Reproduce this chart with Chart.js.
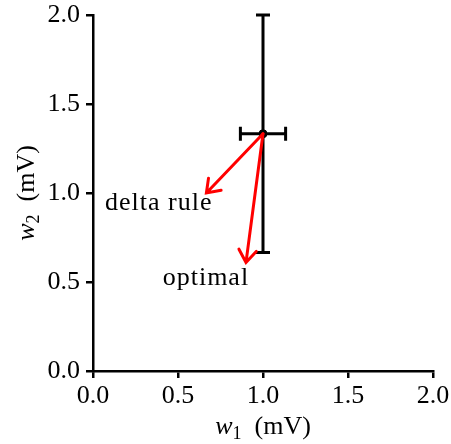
<!DOCTYPE html>
<html>
<head>
<meta charset="utf-8">
<script src="https://cdn.jsdelivr.net/npm/chart.js@4/dist/chart.umd.min.js"></script>
<style>
  body { margin: 0; background: #fff; }
  #wrap { width: 451px; height: 444px; }
</style>
</head>
<body>
<div id="wrap"><canvas id="chart"></canvas></div>
<script>
// data
const tickValues = [0, 0.5, 1.0, 1.5, 2.0];
const pointX = [1.0];
const pointY = [1.333];
const xErr = [0.133];
const yErrLow = [0.667];
const yErrHigh = [0.667];

// arrows: start and tip
const arrowNames = ['delta rule', 'optimal'];
const arrowFrom = [[1.0, 1.333], [1.0, 1.333]];
const arrowTo = [[0.667, 1.0], [0.9, 0.61]];
// text anchors (left, baseline)
const labelPos = [[0.071, 0.904], [0.41, 0.483]];

const serif = "'Liberation Serif', 'DejaVu Serif', serif";

// error bars under the point, arrows and labels on top
const overlay = {
    id: 'overlay',
    beforeDatasetsDraw(chart) {
        const ctx = chart.ctx;
        const x = chart.scales.x, y = chart.scales.y;
        ctx.save();
        ctx.strokeStyle = '#000';
        ctx.lineWidth = 3;
        const cap = 7;
        for (let i = 0; i < pointX.length; i++) {
            const px = x.getPixelForValue(pointX[i]);
            const py = y.getPixelForValue(pointY[i]);
            const xl = x.getPixelForValue(pointX[i] - xErr[i]);
            const xr = x.getPixelForValue(pointX[i] + xErr[i]);
            const yt = y.getPixelForValue(pointY[i] + yErrHigh[i]);
            const yb = y.getPixelForValue(pointY[i] - yErrLow[i]);
            ctx.beginPath();
            ctx.moveTo(xl, py); ctx.lineTo(xr, py);
            ctx.moveTo(xl, py - cap); ctx.lineTo(xl, py + cap);
            ctx.moveTo(xr, py - cap); ctx.lineTo(xr, py + cap);
            ctx.moveTo(px, yt); ctx.lineTo(px, yb);
            ctx.moveTo(px - cap, yt); ctx.lineTo(px + cap, yt);
            ctx.moveTo(px - cap, yb); ctx.lineTo(px + cap, yb);
            ctx.stroke();
        }
        ctx.restore();
    },
    afterDatasetsDraw(chart) {
        const ctx = chart.ctx;
        const x = chart.scales.x, y = chart.scales.y;
        ctx.save();
        ctx.strokeStyle = '#ff0000';
        ctx.lineWidth = 3;
        ctx.lineCap = 'round';
        for (let i = 0; i < arrowFrom.length; i++) {
            const x0 = x.getPixelForValue(arrowFrom[i][0]);
            const y0 = y.getPixelForValue(arrowFrom[i][1]);
            const x1 = x.getPixelForValue(arrowTo[i][0]);
            const y1 = y.getPixelForValue(arrowTo[i][1]);
            const ang = Math.atan2(y0 - y1, x0 - x1);
            const len = 15, spread = 0.62;
            ctx.beginPath();
            ctx.moveTo(x0, y0); ctx.lineTo(x1, y1);
            ctx.moveTo(x1 + len * Math.cos(ang - spread), y1 + len * Math.sin(ang - spread));
            ctx.lineTo(x1, y1);
            ctx.lineTo(x1 + len * Math.cos(ang + spread), y1 + len * Math.sin(ang + spread));
            ctx.stroke();
        }
        ctx.fillStyle = '#000';
        ctx.font = '26px ' + serif;
        ctx.letterSpacing = '1px';
        ctx.textBaseline = 'alphabetic';
        ctx.textAlign = 'left';
        for (let i = 0; i < arrowNames.length; i++) {
            ctx.fillText(arrowNames[i], x.getPixelForValue(labelPos[i][0]), y.getPixelForValue(labelPos[i][1]));
        }
        ctx.letterSpacing = '0px';
        ctx.restore();
    },
    afterDraw(chart) {
        const ctx = chart.ctx;
        const x = chart.scales.x, y = chart.scales.y;
        // axis titles: italic w with subscript
        function title(sub, cx, base) {
            ctx.font = 'italic 26px ' + serif;
            const w1 = ctx.measureText('w').width;
            ctx.font = '18px ' + serif;
            const w2 = ctx.measureText(sub).width;
            ctx.font = '26px ' + serif;
            const w3 = ctx.measureText('  (mV)').width;
            let left = cx - (w1 + w2 + w3) / 2;
            ctx.font = 'italic 26px ' + serif;
            ctx.fillText('w', left, base);
            ctx.font = '18px ' + serif;
            ctx.fillText(sub, left + w1, base + 5);
            ctx.font = '26px ' + serif;
            ctx.fillText('  (mV)', left + w1 + w2, base);
        }
        ctx.save();
        ctx.letterSpacing = '0px';
        ctx.fillStyle = '#000';
        ctx.textAlign = 'left';
        ctx.textBaseline = 'alphabetic';
        title('1', (x.left + x.right) / 2, 434);
        ctx.translate(34, (y.top + y.bottom) / 2);
        ctx.rotate(-Math.PI / 2);
        title('2', 0, 0);
        ctx.restore();
    }
};

function axis(extra) {
    return Object.assign({
        type: 'linear',
        min: 0,
        max: 2,
        afterBuildTicks: s => { s.ticks = tickValues.map(v => ({ value: v })); },
        ticks: {
            color: '#000',
            font: { family: serif, size: 26 },
            callback: v => v.toFixed(1)
        },
        grid: {
            display: true,
            drawOnChartArea: false,
            drawTicks: true,
            tickLength: 7,
            tickWidth: 2.5,
            tickColor: '#000',
            color: '#000',
            lineWidth: 2.5
        },
        border: { display: true, color: '#000', width: 2.5 }
    }, extra);
}

const xScale = axis({
    position: 'bottom',
    afterFit: s => { s.height = 73; s.paddingLeft = 0; s.paddingRight = 0; }
});
xScale.ticks.padding = 3;
xScale.ticks.maxRotation = 0;
const yScale = axis({
    position: 'left',
    afterFit: s => { s.width = 93; s.paddingTop = 0; s.paddingBottom = 0; }
});
yScale.ticks.padding = 6;

new Chart(document.getElementById('chart'), {
    type: 'scatter',
    data: {
        datasets: [{
            data: pointX.map((v, i) => ({ x: v, y: pointY[i] })),
            backgroundColor: '#000',
            borderColor: '#000',
            pointRadius: 4,
            pointHoverRadius: 4
        }]
    },
    options: {
        responsive: true,
        maintainAspectRatio: false,
        animation: false,
        layout: { padding: { top: 15, right: 18, left: 0, bottom: 0 } },
        plugins: { legend: { display: false }, tooltip: { enabled: false } },
        scales: { x: xScale, y: yScale }
    },
    plugins: [overlay]
});
</script>
</body>
</html>
